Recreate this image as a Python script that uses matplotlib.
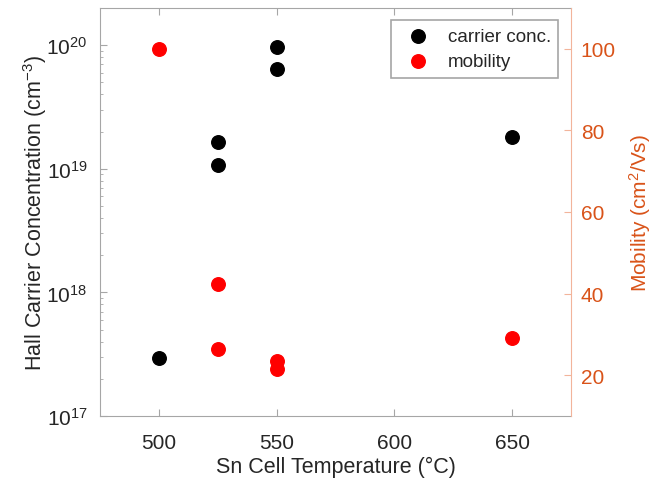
import matplotlib
matplotlib.use("Agg")
import matplotlib.pyplot as plt
from matplotlib.ticker import LogLocator, FixedLocator

plt.rcParams['font.family'] = ['Liberation Sans', 'DejaVu Sans']
plt.rcParams['mathtext.fontset'] = 'custom'
plt.rcParams['mathtext.rm'] = 'Liberation Sans'
plt.rcParams['mathtext.it'] = 'Liberation Sans:italic'
plt.rcParams['mathtext.bf'] = 'Liberation Sans:bold'

# Data
temp_conc = [500, 525, 525, 550, 550, 650]
carrier_conc = [2.97e17, 1.66e19, 1.08e19, 9.6e19, 6.4e19, 1.82e19]
temp_mob = [500, 525, 525, 550, 550, 650]
mobility = [100, 42.3, 26.3, 23.4, 21.4, 29.2]
x_ticks = [500, 550, 600, 650]
mob_ticks = [20, 40, 60, 80, 100]
conc_ticks = [1e17, 1e18, 1e19, 1e20]
conc_labels = [r'$10^{17}$', r'$10^{18}$', r'$10^{19}$', r'$10^{20}$']

dark = '#262626'
orange = '#D95319'
spine_grey = '#A6A6A6'

fig = plt.figure(figsize=(6.54, 4.89), dpi=100)
ax = fig.add_axes([100/654, 1-417/489, 471/654, 408/489])
ax2 = ax.twinx()

h1 = ax.scatter(temp_conc, carrier_conc, s=95, color='black', label='carrier conc.', zorder=3)
h2 = ax2.scatter(temp_mob, mobility, s=95, color='#FF0000', label='mobility', zorder=3)

ax.set_yscale('log')
ax.set_ylim(1e17, 2e20)
ax.set_xlim(475, 675)
ax.set_xticks(x_ticks)
ax.yaxis.set_minor_locator(LogLocator(base=10, subs=range(2, 10), numticks=20))
ax.set_yticks(conc_ticks)
ax.set_yticklabels(conc_labels)

ax2.set_ylim(10, 110)
ax2.yaxis.set_major_locator(FixedLocator(mob_ticks))

for s in ['left', 'bottom', 'top']:
    ax.spines[s].set_color(spine_grey)
ax.spines['right'].set_visible(False)
for s in ['left', 'bottom', 'top']:
    ax2.spines[s].set_visible(False)
ax2.spines['right'].set_color('#F2B49B')

ax.tick_params(axis='both', which='both', direction='in', colors=spine_grey,
               labelcolor=dark, labelsize=15, top=True, right=False)
ax.tick_params(axis='y', which='major', length=5, labelsize=15, pad=9)
ax.tick_params(axis='y', which='minor', length=2.5)
ax.tick_params(axis='x', which='major', length=5, pad=12)
ax.tick_params(axis='x', which='minor', bottom=False, top=False)
ax2.tick_params(axis='y', direction='in', colors='#F2B49B', labelcolor=orange,
                labelsize=15, length=5, pad=7)

ax.set_xlabel('Sn Cell Temperature (\u00b0C)', fontsize=15.5, color=dark, labelpad=3)
ax.set_ylabel(r'Hall Carrier Concentration (cm$^{-3}$)', fontsize=15.5, color=dark, labelpad=-2)
ax2.set_ylabel(r'Mobility (cm$^{2}$/Vs)', fontsize=15, color=orange, labelpad=8)

leg = ax2.legend(handles=[h1, h2], loc='upper right', fontsize=13.5, frameon=True,
                 fancybox=False, edgecolor=spine_grey, framealpha=1,
                 bbox_to_anchor=(0.993, 0.993), handletextpad=0.6, borderpad=0.4,
                 labelspacing=0.45, markerscale=1.0)
leg.get_frame().set_linewidth(1.2)
for t in leg.get_texts():
    t.set_color(dark)

fig.savefig('out.png', dpi=100)
